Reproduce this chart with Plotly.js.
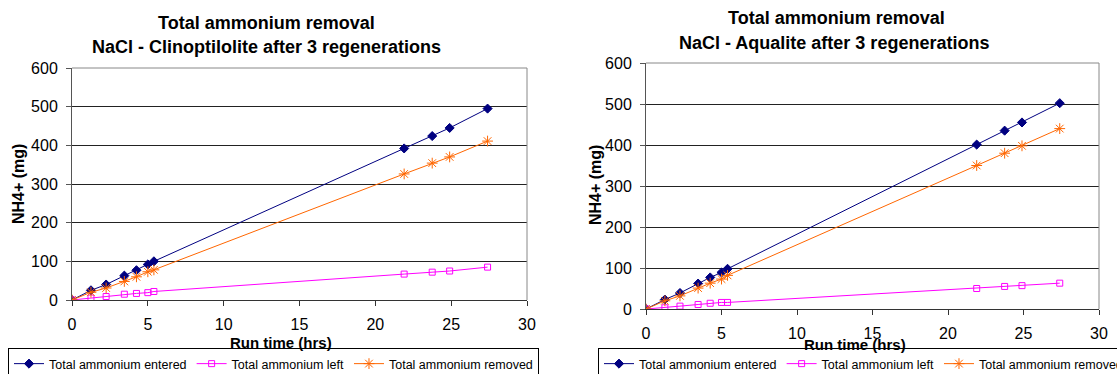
<!DOCTYPE html>
<html>
<head>
<meta charset="utf-8">
<script src="https://cdn.plot.ly/plotly-3.0.1.min.js"></script>
<style>
  html, body { margin: 0; padding: 0; background: #fff; }
  #chart { width: 1117px; height: 374px; }
</style>
</head>
<body>
<div id="chart"></div>
<script>
// Run times (hours) at which samples were taken
const runTime = [0, 1.25, 2.25, 3.45, 4.25, 5.0, 5.4, 21.9, 23.75, 24.9, 27.4];

// Clinoptilolite column, NH4+ in mg
const clinoEntered = [0, 25, 40, 63, 77, 92, 100, 392, 424, 445, 495];
const clinoLeft    = [0, 5, 9, 15, 17, 19, 22, 67, 72, 75, 85];
const clinoRemoved = [0, 20, 31, 48, 60, 73, 78, 326, 354, 370, 411];

// Aqualite column, NH4+ in mg
const aquaEntered = [0, 23, 39, 62, 77, 89, 98, 401, 435, 455, 502];
const aquaLeft    = [0, 3, 7, 11, 14, 16, 16, 50, 55, 57, 63];
const aquaRemoved = [0, 20, 32, 51, 63, 73, 82, 350, 380, 398, 440];

const seriesNames = ['Total ammonium entered', 'Total ammonium left', 'Total ammonium removed'];
const titleLine1 = 'Total ammonium removal';
const titleLeft = 'NaCl - Clinoptilolite after 3 regenerations';
const titleRight = 'NaCl - Aqualite after 3 regenerations';
const xTitle = 'Run time (hrs)';
const yTitle = 'NH4+ (mg)';

const FONT = 'Liberation Sans, Arial, Helvetica, sans-serif';
const W = 1117, H = 374;
const px = v => v / W;
const py = v => 1 - v / H;

const styles = [
  { color: '#000080', symbol: 'diamond', size: 7 },
  { color: '#FF00FF', symbol: 'square-open', size: 6 },
  { color: '#FF6600', symbol: 'asterisk-open', size: 9 }
];

function makeTraces(values, xa, ya, legendId) {
  return values.map((vals, i) => ({
    type: 'scatter',
    mode: 'lines+markers',
    x: runTime,
    y: vals,
    name: seriesNames[i],
    xaxis: xa,
    yaxis: ya,
    legend: legendId,
    line: { color: styles[i].color, width: 1 },
    marker: {
      symbol: styles[i].symbol,
      size: styles[i].size,
      color: styles[i].color,
      line: { color: styles[i].color, width: 1 }
    },
    hoverinfo: 'x+y+name'
  }));
}

const data = [
  ...makeTraces([clinoEntered, clinoLeft, clinoRemoved], 'x', 'y', 'legend'),
  ...makeTraces([aquaEntered, aquaLeft, aquaRemoved], 'x2', 'y2', 'legend2')
];

function xAxis(domain, anchor) {
  return {
    domain: domain, anchor: anchor,
    range: [0, 30], dtick: 5, tick0: 0,
    showgrid: false, zeroline: false,
    showline: true, linecolor: '#333', linewidth: 1,
    ticks: 'outside', ticklen: 5, tickcolor: '#333',
    ticklabelstandoff: 5,
    tickfont: { family: FONT, size: 16, color: '#000' },
    fixedrange: true
  };
}
function yAxis(domain, anchor) {
  return {
    domain: domain, anchor: anchor,
    range: [0, 600], dtick: 100, tick0: 0,
    showgrid: true, gridcolor: '#222', gridwidth: 1,
    zeroline: false,
    showline: true, linecolor: '#555', linewidth: 1,
    ticks: 'outside', ticklen: 5, tickcolor: '#555',
    ticklabelstandoff: 5,
    tickfont: { family: FONT, size: 16, color: '#000' },
    fixedrange: true
  };
}

const leftX = [px(72), px(527)];
const leftY = [py(300), py(68)];
const rightX = [px(646), px(1099)];
const rightY = [py(309), py(63)];

function legendBox(x, y) {
  return {
    orientation: 'h',
    x: x, y: y, xanchor: 'left', yanchor: 'top',
    bgcolor: '#fff', bordercolor: '#000', borderwidth: 1,
    itemwidth: 30,
    font: { family: FONT, size: 12.5, color: '#000' }
  };
}

function label(text, x, y, size, opts) {
  return Object.assign({
    text: text, xref: 'paper', yref: 'paper',
    x: px(x), y: py(y), xanchor: 'center', yanchor: 'middle',
    showarrow: false,
    font: { family: FONT, size: size, color: '#000' }
  }, opts || {});
}

// gray frame on the top and right edges of each plot area
function frame(xd, yd) {
  return {
    type: 'path', xref: 'paper', yref: 'paper', layer: 'above',
    path: `M ${xd[0]} ${yd[1]} L ${xd[1]} ${yd[1]} L ${xd[1]} ${yd[0]}`,
    line: { color: '#888', width: 1 }
  };
}

const layout = {
  width: W, height: H,
  margin: { l: 0, r: 0, t: 0, b: 0, autoexpand: false },
  paper_bgcolor: '#fff', plot_bgcolor: '#fff',
  showlegend: true,
  font: { family: FONT, color: '#000' },
  xaxis: xAxis(leftX, 'y'),
  yaxis: yAxis(leftY, 'x'),
  xaxis2: xAxis(rightX, 'y2'),
  yaxis2: yAxis(rightY, 'x2'),
  legend: legendBox(px(8), py(348)),
  legend2: legendBox(px(598), py(348)),
  shapes: [frame(leftX, leftY), frame(rightX, rightY)],
  annotations: [
    label('<b>' + titleLine1 + '</b>', 266, 23, 18),
    label('<b>' + titleLeft + '</b>', 266, 47, 18),
    label('<b>' + xTitle + '</b>', 281, 342, 15),
    label('<b>' + yTitle + '</b>', 18, 184, 16, { textangle: -90 }),
    label('<b>' + titleLine1 + '</b>', 836, 18, 18),
    label('<b>' + titleRight + '</b>', 834, 43, 18),
    label('<b>' + xTitle + '</b>', 855, 344, 15),
    label('<b>' + yTitle + '</b>', 595, 185, 16, { textangle: -90 })
  ]
};

Plotly.newPlot('chart', data, layout, { staticPlot: true, displayModeBar: false });
</script>
</body>
</html>
